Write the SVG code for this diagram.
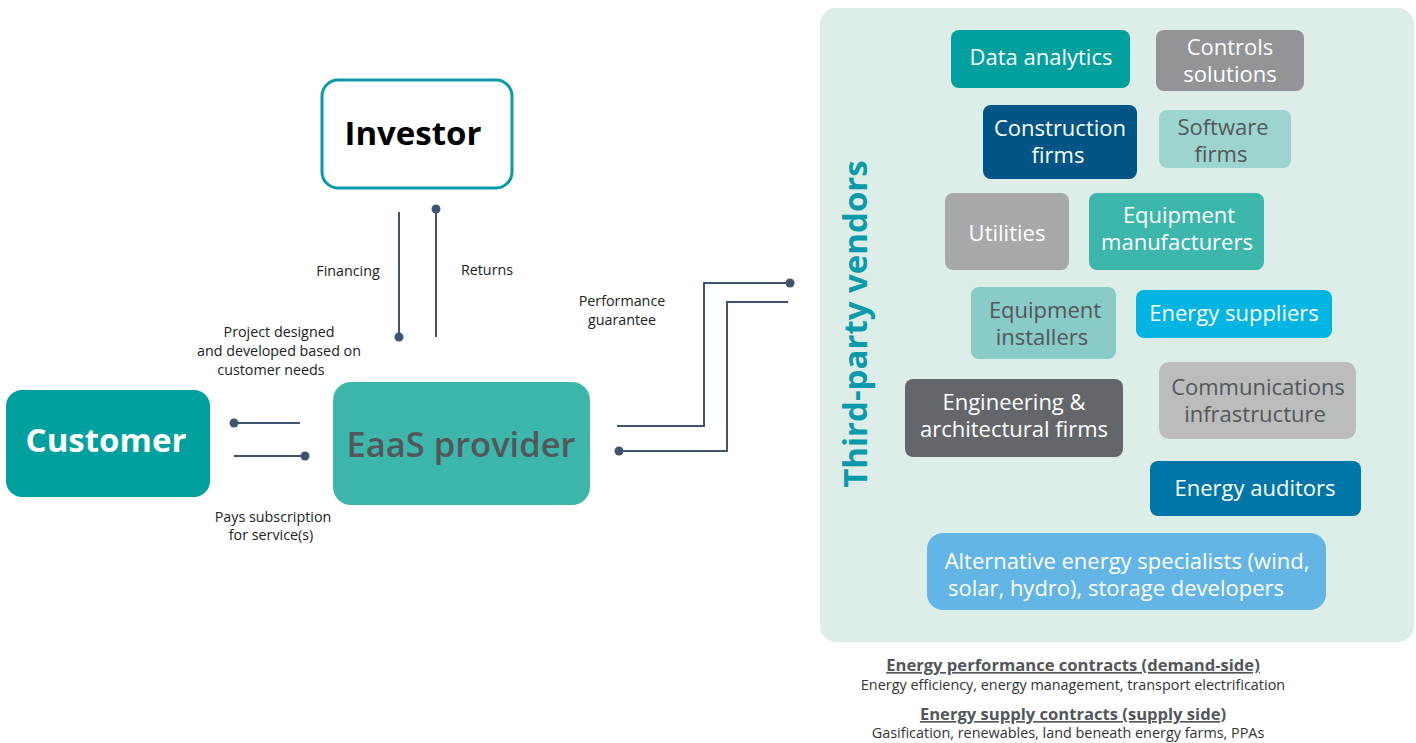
<svg xmlns="http://www.w3.org/2000/svg" width="1416" height="743" viewBox="0 0 1416 743">
<defs>
<style>
text{font-family:"Open Sans","Noto Sans","Liberation Sans",sans-serif}
.lbl{font-size:14.3px;fill:#222;text-anchor:middle}
.v{font-size:22px;text-anchor:middle}
.w{fill:#fff}
.g{fill:#53565a}
.conn{fill:none;stroke:#3e5470;stroke-width:2}
.dot{fill:#3e5470}
.foot{font-size:14.4px;fill:#333;text-anchor:middle}
.footb{font-size:16.6px;font-weight:bold;fill:#53565a;text-anchor:middle;text-decoration:underline}
</style>
</defs>
<rect width="1416" height="743" fill="#fff"/>

<g id="vendors-panel">
<rect x="820" y="8" width="594" height="634" rx="16" fill="#ddeee9"/>
<text transform="translate(867,324) rotate(-90)" text-anchor="middle" font-size="33" font-weight="bold" fill="#0a9aab">Third-party vendors</text>
</g>

<g id="investor">
<rect x="322" y="80" width="190" height="108" rx="16" fill="#fff" stroke="#0a9aab" stroke-width="3"/>
<text x="413" y="145" text-anchor="middle" font-size="33" font-weight="bold" fill="#000">Investor</text>
</g>

<g id="customer">
<rect x="6" y="390" width="204" height="107" rx="16" fill="#00a09e"/>
<text x="106" y="452" text-anchor="middle" font-size="33" font-weight="bold" fill="#fff">Customer</text>
</g>

<g id="eaas">
<rect x="333" y="382" width="257" height="123" rx="18" fill="#3db6ac"/>
<text x="461" y="457" text-anchor="middle" font-size="34.5" font-weight="600" fill="#53565a">EaaS provider</text>
</g>

<g id="connectors">
<line class="conn" x1="399" y1="212" x2="399" y2="337"/>
<circle class="dot" cx="399" cy="337" r="4.5"/>
<line class="conn" x1="436" y1="209" x2="436" y2="337"/>
<circle class="dot" cx="436" cy="209" r="4.5"/>
<line class="conn" x1="234" y1="423" x2="300" y2="423"/>
<circle class="dot" cx="234" cy="423" r="4.5"/>
<line class="conn" x1="234" y1="456" x2="305" y2="456"/>
<circle class="dot" cx="305" cy="456" r="4.5"/>
<polyline class="conn" points="617,426 704,426 704,283 790,283"/>
<circle class="dot" cx="790" cy="283" r="4.5"/>
<polyline class="conn" points="619,451 727,451 727,302 788,302"/>
<circle class="dot" cx="619" cy="451" r="4.5"/>
</g>

<g id="labels">
<text class="lbl" x="348" y="276">Financing</text>
<text class="lbl" x="487" y="275">Returns</text>
<text class="lbl"><tspan x="622" y="306">Performance</tspan><tspan x="622" y="325">guarantee</tspan></text>
<text class="lbl"><tspan x="279" y="337">Project designed</tspan><tspan x="279" y="356">and developed based on</tspan><tspan x="271" y="375">customer needs</tspan></text>
<text class="lbl"><tspan x="273" y="522">Pays subscription</tspan><tspan x="271" y="540">for service(s)</tspan></text>
</g>

<g id="data-analytics">
<rect x="951" y="30" width="179" height="58" rx="8" fill="#00a09e"/>
<text class="v w" x="1041" y="65">Data analytics</text>
</g>
<g id="controls-solutions">
<rect x="1156" y="30" width="148" height="61" rx="8" fill="#929497"/>
<text class="v w"><tspan x="1230" y="55">Controls</tspan><tspan x="1230" y="82">solutions</tspan></text>
</g>
<g id="construction-firms">
<rect x="983" y="105" width="154" height="74" rx="8" fill="#005587"/>
<text class="v w"><tspan x="1060" y="136">Construction</tspan><tspan x="1058" y="163">firms</tspan></text>
</g>
<g id="software-firms">
<rect x="1159" y="110" width="132" height="58" rx="8" fill="#9dd4cf"/>
<text class="v g"><tspan x="1223" y="135">Software</tspan><tspan x="1221" y="162">firms</tspan></text>
</g>
<g id="utilities">
<rect x="945" y="193" width="124" height="77" rx="8" fill="#a7a8aa"/>
<text class="v w" x="1007" y="241">Utilities</text>
</g>
<g id="equipment-manufacturers">
<rect x="1089" y="193" width="175" height="77" rx="8" fill="#3db6ac"/>
<text class="v w"><tspan x="1179" y="223">Equipment</tspan><tspan x="1177" y="250">manufacturers</tspan></text>
</g>
<g id="equipment-installers">
<rect x="971" y="287" width="145" height="72" rx="8" fill="#88cbc8"/>
<text class="v g"><tspan x="1045" y="318">Equipment</tspan><tspan x="1042" y="345">installers</tspan></text>
</g>
<g id="energy-suppliers">
<rect x="1136" y="290" width="196" height="48" rx="8" fill="#00b5e2"/>
<text class="v w" x="1234" y="321">Energy suppliers</text>
</g>
<g id="engineering">
<rect x="905" y="379" width="218" height="78" rx="8" fill="#63666a"/>
<text class="v w"><tspan x="1014" y="410">Engineering &amp;</tspan><tspan x="1014" y="437">architectural firms</tspan></text>
</g>
<g id="communications">
<rect x="1159" y="362" width="197" height="77" rx="10" fill="#bbbcbc"/>
<text class="v g"><tspan x="1258" y="395">Communications</tspan><tspan x="1255" y="422">infrastructure</tspan></text>
</g>
<g id="energy-auditors">
<rect x="1150" y="461" width="211" height="55" rx="8" fill="#0076a8"/>
<text class="v w" x="1255" y="496">Energy auditors</text>
</g>
<g id="alternative-energy">
<rect x="927" y="533" width="399" height="77" rx="16" fill="#62b5e5"/>
<text class="v w"><tspan x="1127" y="569">Alternative energy specialists (wind,</tspan><tspan x="1116" y="596">solar, hydro), storage developers</tspan></text>
</g>

<g id="footer">
<text class="footb" x="1073" y="671">Energy performance contracts (demand-side)</text>
<text class="foot" x="1073" y="690">Energy efficiency, energy management, transport electrification</text>
<text class="footb" x="1073" y="720">Energy supply contracts (supply side)</text>
<text class="foot" x="1068" y="738">Gasification, renewables, land beneath energy farms, PPAs</text>
</g>
</svg>
